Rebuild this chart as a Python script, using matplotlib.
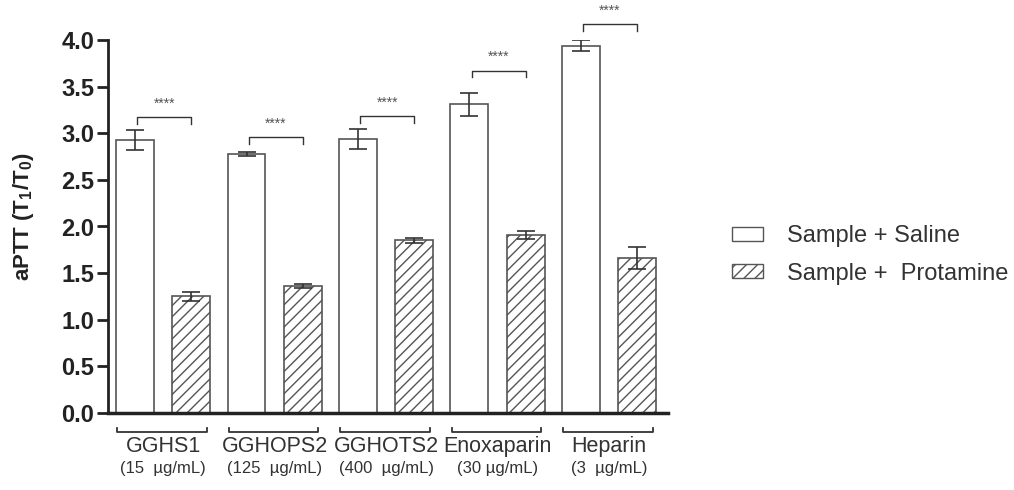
import matplotlib
matplotlib.use("Agg")
import matplotlib.pyplot as plt
import matplotlib.transforms as mtransforms
from matplotlib.patches import Patch
import numpy as np

plt.rcParams['font.family'] = ['Liberation Sans', 'DejaVu Sans']
plt.rcParams['mathtext.fontset'] = 'custom'
plt.rcParams['mathtext.rm'] = 'Liberation Sans:bold'
plt.rcParams['mathtext.bf'] = 'Liberation Sans:bold'
plt.rcParams['hatch.linewidth'] = 1.0
plt.rcParams['hatch.color'] = '#333333'

categories = ['GGHS1', 'GGHOPS2', 'GGHOTS2', 'Enoxaparin', 'Heparin']
concentrations = ['(15  µg/mL)', '(125  µg/mL)', '(400  µg/mL)', '(30 µg/mL)', '(3  µg/mL)']
saline = [2.93, 2.78, 2.94, 3.31, 3.94]
saline_err = [0.11, 0.02, 0.11, 0.12, 0.06]
protamine = [1.25, 1.36, 1.85, 1.91, 1.66]
protamine_err = [0.05, 0.02, 0.03, 0.04, 0.12]
bracket_levels = [3.17, 2.96, 3.18, 3.67, 4.17]
sig_labels = ['****'] * 5
legend_labels = ['Sample + Saline', 'Sample +  Protamine']

edge = '#555555'
dark = '#333333'

fig = plt.figure(figsize=(10.14, 4.9), dpi=100)
ax = fig.add_axes([108/1014, 77/490, 560/1014, 373/490])

x = np.arange(len(categories))
w = 0.34
off = 0.252
ekw = dict(ecolor=dark, elinewidth=1.2, capsize=6.5, capthick=1.2)
ax.bar(x - off, saline, w, color='white', edgecolor=edge, linewidth=1.2,
       yerr=saline_err, error_kw=ekw)
ax.bar(x + off, protamine, w, color='white', edgecolor=edge, linewidth=1.2, hatch='///',
       yerr=protamine_err, error_kw=ekw)

ax.set_xlim(-0.495, 4.53)
ax.set_ylim(0, 4.0)
ticks = np.arange(0, 4.01, 0.5)
ax.set_yticks(ticks)
ax.set_yticklabels([f'{v:.1f}' for v in ticks], fontsize=17, fontweight='bold')
ax.set_xticks([])
ax.tick_params(axis='y', direction='out', length=8, width=2, pad=2, colors='#222222')
for s in ['top', 'right']:
    ax.spines[s].set_visible(False)
ax.spines['left'].set_linewidth(2)
ax.spines['bottom'].set_linewidth(2.5)
ax.spines['left'].set_color('#222222')
ax.spines['bottom'].set_color('#222222')

ax.set_ylabel(r'aPTT (T$_1$/T$_0$)', fontsize=16, fontweight='bold', color='#222222')
ax.yaxis.set_label_coords(-0.128, 0.527)

# significance brackets
tick_h = 0.07
for i, (lvl, lab) in enumerate(zip(bracket_levels, sig_labels)):
    x0, x1 = x[i] - off + 0.02, x[i] + off
    ax.plot([x0, x0, x1, x1], [lvl - tick_h, lvl, lvl, lvl - tick_h], color=dark, lw=1.0, clip_on=False)
    ax.text((x0 + x1) / 2, lvl + 0.07, lab, ha='center', va='bottom', fontsize=10, color='#555555', clip_on=False)

# group brackets below axis
trans = mtransforms.blended_transform_factory(ax.transData, ax.transAxes)
by = -0.051
for i, (cat, conc) in enumerate(zip(categories, concentrations)):
    x0, x1 = x[i] - off - w / 2 + 0.01, x[i] + off + w / 2 - 0.03
    ax.plot([x0, x0, x1, x1], [by + 0.012, by, by, by + 0.012], color=dark, lw=1.3,
            transform=trans, clip_on=False)
    ax.text(x[i], -0.09, cat, transform=trans, ha='center', va='center', fontsize=15.5, color=dark)
    ax.text(x[i], -0.15, conc, transform=trans, ha='center', va='center', fontsize=12, color=dark)

handles = [Patch(facecolor='white', edgecolor=edge, linewidth=1.0),
           Patch(facecolor='white', edgecolor=edge, linewidth=1.0, hatch='///')]
fig.legend(handles, legend_labels, loc='center left', bbox_to_anchor=(711/1014, 1 - 255/490),
           frameon=False, fontsize=17, handlelength=1.3, handleheight=0.55,
           labelspacing=0.65, handletextpad=1.0, labelcolor=dark)

fig.savefig('out.png', dpi=100)
